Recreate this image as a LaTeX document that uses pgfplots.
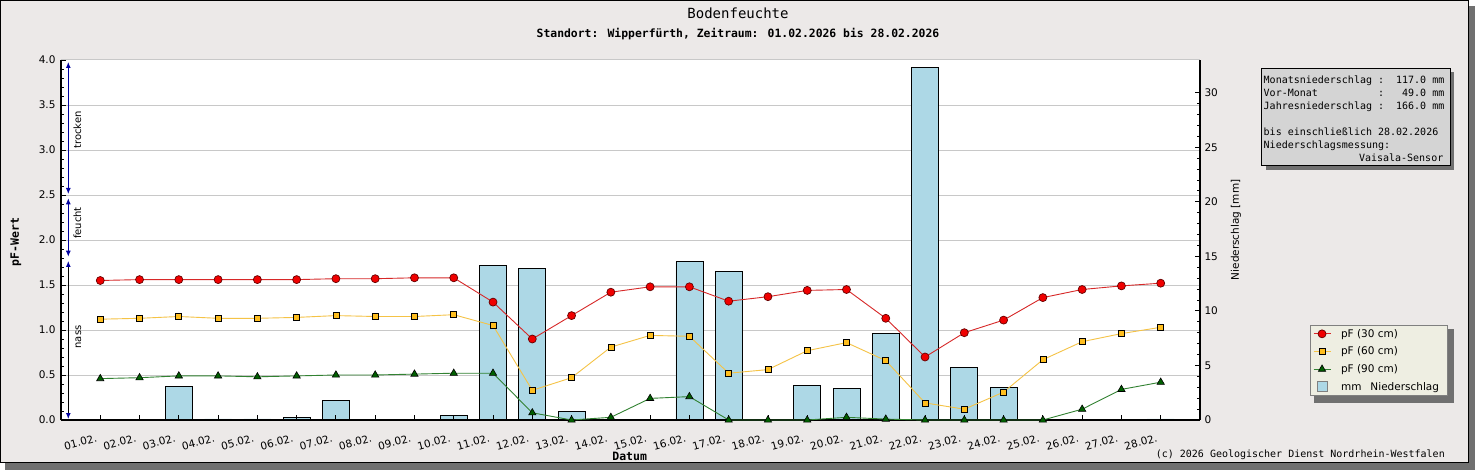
\documentclass[border=0pt]{standalone}
\usepackage{fontspec}
\setmainfont{DejaVu Sans}
\newfontfamily\mono{DejaVu Sans Mono}
\usepackage{pgfplots}
\pgfplotsset{compat=1.18}
\usetikzlibrary{arrows.meta}
\definecolor{bg}{RGB}{236,233,232}
\definecolor{shadowgray}{RGB}{112,112,112}
\definecolor{gridgray}{RGB}{200,200,200}
\definecolor{barblue}{RGB}{173,216,230}
\definecolor{legbg}{RGB}{238,238,226}
\definecolor{boxgray}{RGB}{212,212,212}
\definecolor{annblue}{RGB}{0,0,160}
\definecolor{redline}{RGB}{215,40,40}
\definecolor{redmark}{RGB}{240,0,0}
\definecolor{orline}{RGB}{245,195,70}
\definecolor{ormark}{RGB}{255,190,30}
\definecolor{grline}{RGB}{50,130,50}
\definecolor{grmark}{RGB}{0,95,0}
\begin{document}
\begin{tikzpicture}
\path[use as bounding box] (0pt,0pt) rectangle (1475pt,-470pt);
\fill[shadowgray] (5pt,-6pt) rectangle (1475pt,-470pt);
\fill[bg] (0pt,0pt) rectangle (1469pt,-463pt);
\draw[black,line width=1.2pt] (0.6pt,-0.6pt) rectangle (1468.6pt,-462.4pt);

% Axis 1: pF background with grid and labels
\begin{axis}[
  at={(61pt,-420pt)}, anchor=south west, scale only axis,
  width=1139pt, height=360pt,
  xmin=0, xmax=29, ymin=0, ymax=4,
  axis x line*=bottom, axis y line*=left,
  axis line style={black,line width=1.1pt},
  axis background/.style={fill=white},
  tick align=inside,
  major tick length=5pt, minor tick length=3pt,
  every tick/.style={black,line width=0.9pt},
  xtick={1,...,28},
  xticklabels={01.02.,02.02.,03.02.,04.02.,05.02.,06.02.,07.02.,08.02.,09.02.,10.02.,11.02.,12.02.,13.02.,14.02.,15.02.,16.02.,17.02.,18.02.,19.02.,20.02.,21.02.,22.02.,23.02.,24.02.,25.02.,26.02.,27.02.,28.02.},
  xticklabel style={rotate=15, anchor=north east, inner sep=1pt, yshift=-11pt, xshift=-7pt, font=\fontsize{10.5}{12}\selectfont},
  ytick={0,0.5,...,4}, minor y tick num=4,
  yticklabel style={font=\fontsize{10.5}{12}\selectfont, xshift=-2pt},
  /pgf/number format/.cd, fixed, fixed zerofill, precision=1, assume math mode=true,
  /pgfplots/.cd,
  ymajorgrids,
  major grid style={draw=gridgray, line width=1pt},
  xlabel={Datum},
  xlabel style={at={(axis description cs:0.4993,-0.113)}, anchor=base, font=\mono\bfseries\fontsize{11.5}{13}\selectfont},
  ylabel={pF-Wert},
  ylabel style={at={(axis description cs:-0.0369,0.495)}, anchor=base, font=\mono\bfseries\fontsize{11.5}{13}\selectfont},
]
\end{axis}

% Axis 2: precipitation bars (right axis)
\begin{axis}[
  at={(61pt,-420pt)}, anchor=south west, scale only axis,
  width=1139pt, height=360pt,
  xmin=0, xmax=29, ymin=0, ymax=33,
  axis x line*=bottom, axis y line*=right,
  axis line style={black,line width=1.1pt},
  axis on top,
  tick align=inside,
  major tick length=5pt, minor tick length=3pt,
  every tick/.style={black,line width=0.9pt},
  xtick={1,...,28}, xticklabels={},
  ytick={0,5,...,30}, minor y tick num=4,
  yticklabel style={font=\fontsize{10.5}{12}\selectfont, xshift=1pt},
  /pgf/number format/assume math mode=true,
  ylabel={Niederschlag [mm]},
  ylabel style={at={(axis description cs:1.0316,0.528)}, anchor=center, font=\fontsize{10.5}{12}\selectfont},
]
\addplot[ybar, bar width=27pt, fill=barblue, draw=black, line width=0.8pt] coordinates {
(1,0) (2,0) (3,3.1) (4,0.1) (5,0.1) (6,0.2) (7,1.8) (8,0) (9,0) (10,0.4)
(11,14.2) (12,13.9) (13,0.8) (14,0) (15,0) (16,14.5) (17,13.6) (18,0) (19,3.2) (20,2.9)
(21,7.9) (22,32.3) (23,4.8) (24,3.0) (25,0) (26,0) (27,0) (28,0.1)};
\end{axis}

% legend shadow
\fill[shadowgray] (1314pt,-329pt) rectangle (1454pt,-403pt);

% Axis 3: pF lines
\begin{axis}[
  at={(61pt,-420pt)}, anchor=south west, scale only axis,
  width=1139pt, height=360pt,
  xmin=0, xmax=29, ymin=0, ymax=4,
  hide axis, clip=false,
  legend style={at={(axis description cs:1.0963,0.2647)}, anchor=north west,
    fill=legbg, draw=gray, line width=0.8pt, font=\fontsize{10.5}{12}\selectfont,
    row sep=4.2pt,
    /tikz/every odd column/.append style={column sep=8pt}},
  legend cell align=left,
]
\addplot[color=redline, line width=0.9pt, mark=*, mark size=4pt,
  mark options={fill=redmark, draw=black!60!red, line width=0.7pt}] coordinates {
(1,1.55) (2,1.56) (3,1.56) (4,1.56) (5,1.56) (6,1.56) (7,1.57) (8,1.57) (9,1.58) (10,1.58)
(11,1.31) (12,0.90) (13,1.16) (14,1.42) (15,1.48) (16,1.48) (17,1.32) (18,1.37) (19,1.44) (20,1.45)
(21,1.13) (22,0.70) (23,0.97) (24,1.11) (25,1.36) (26,1.45) (27,1.49) (28,1.52)};
\addlegendentry{pF (30 cm)}
\addplot[color=orline, line width=0.9pt, mark=square*, mark size=3pt,
  mark options={fill=ormark, draw=black, line width=0.7pt}] coordinates {
(1,1.12) (2,1.13) (3,1.15) (4,1.13) (5,1.13) (6,1.14) (7,1.16) (8,1.15) (9,1.15) (10,1.17)
(11,1.05) (12,0.33) (13,0.47) (14,0.81) (15,0.94) (16,0.93) (17,0.52) (18,0.56) (19,0.77) (20,0.86)
(21,0.66) (22,0.19) (23,0.12) (24,0.31) (25,0.67) (26,0.87) (27,0.96) (28,1.03)};
\addlegendentry{pF (60 cm)}
\addplot[color=grline, line width=0.9pt, mark=triangle*, mark size=4.2pt,
  mark options={fill=grmark, draw=black, line width=0.6pt}] coordinates {
(1,0.46) (2,0.47) (3,0.49) (4,0.49) (5,0.48) (6,0.49) (7,0.50) (8,0.50) (9,0.51) (10,0.52)
(11,0.52) (12,0.08) (13,0.00) (14,0.03) (15,0.24) (16,0.26) (17,0.00) (18,0.00) (19,0.00) (20,0.03)
(21,0.01) (22,0.00) (23,0.00) (24,0.00) (25,0.00) (26,0.12) (27,0.34) (28,0.42)};
\addlegendentry{pF (90 cm)}
\addlegendimage{legend image code/.code={\draw[fill=barblue,draw=gray,line width=0.8pt] (0.125cm,-0.175cm) rectangle (0.475cm,0.175cm);}}
\addlegendentry{mm\hspace{9pt}Niederschlag\hspace*{3pt}}
\end{axis}

\begin{scope}[x=1pt,y=-1pt]
% moisture range annotations
\draw[annblue, line width=1pt, {Latex[length=6pt,width=5pt]}-{Latex[length=6pt,width=5pt]}] (68.3,62) -- (68.3,194);
\draw[annblue, line width=1pt, {Latex[length=6pt,width=5pt]}-{Latex[length=6pt,width=5pt]}] (68.3,198.3) -- (68.3,256.7);
\draw[black, line width=1pt, {Latex[length=6pt,width=5pt,color=annblue]}-{Latex[length=6pt,width=5pt,color=annblue]}] (68.3,261) -- (68.3,419);
\node[rotate=90, anchor=base, inner sep=0pt, font=\fontsize{10}{12}\selectfont] at (81,130) {trocken};
\node[rotate=90, anchor=base, inner sep=0pt, font=\fontsize{10}{12}\selectfont] at (81,223) {feucht};
\node[rotate=90, anchor=base, inner sep=0pt, font=\fontsize{10}{12}\selectfont] at (81,337) {nass};
% titles
\node[anchor=base, inner sep=0pt, font=\mono\fontsize{14}{16}\selectfont] at (738,18.5) {Bodenfeuchte};
\node[anchor=base, inner sep=0pt, font=\mono\bfseries\fontsize{11.4}{13}\selectfont] at (738,37.3) {Standort: Wipperfürth, Zeitraum: 01.02.2026 bis 28.02.2026};
% info box
\fill[shadowgray] (1265.7,72.3) rectangle (1454,169.7);
\draw[fill=boxgray, draw=black, line width=0.9pt] (1261.7,68.3) rectangle (1450,165.7);
\begin{scope}[every node/.style={inner sep=0pt, font=\mono\fontsize{10}{12}\selectfont}]
\node[anchor=base west] at (1263.5,83.5) {Monatsniederschlag\ :\ \ 117.0\ mm};
\node[anchor=base west] at (1263.5,96.5) {Vor-Monat\ \ \ \ \ \ \ \ \ \ :\ \ \ 49.0\ mm};
\node[anchor=base west] at (1263.5,109.5) {Jahresniederschlag\ :\ \ 166.0\ mm};
\node[anchor=base west] at (1263.5,135.5) {bis einschließlich 28.02.2026};
\node[anchor=base west] at (1263.5,148.5) {Niederschlagsmessung:};
\node[anchor=base east] at (1443.5,161.5) {Vaisala-Sensor};
\node[anchor=base east] at (1445,457.5) {(c) 2026 Geologischer Dienst Nordrhein-Westfalen};
\end{scope}
\end{scope}
\end{tikzpicture}
\end{document}
